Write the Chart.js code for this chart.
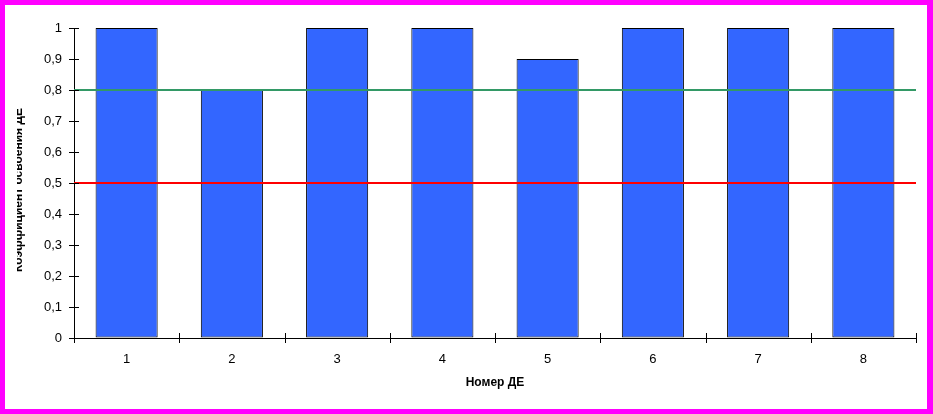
<!DOCTYPE html>
<html>
<head>
<meta charset="utf-8">
<script src="https://cdn.jsdelivr.net/npm/chart.js@4/dist/chart.umd.min.js"></script>
<style>
  body { margin: 0; background: #fff; }
  #frame { width: 933px; height: 414px; box-sizing: border-box; border: 5px solid #ff00ff; border-right-width: 6px; background: #fff; }
  canvas { display: block; }
</style>
</head>
<body>
<div id="frame"><canvas id="myChart" width="922" height="404"></canvas></div>
<script>
'use strict'
// data
const categories = ['1', '2', '3', '4', '5', '6', '7', '8']
const values = [1, 0.8, 1, 1, 0.9, 1, 1, 1]
const upperLevel = 0.8
const lowerLevel = 0.5
const yTicks = [0, 0.1, 0.2, 0.3, 0.4, 0.5, 0.6, 0.7, 0.8, 0.9, 1]
const yTitle = 'Коэффициент освоения ДЕ'
const xTitle = 'Номер ДЕ'

const font = 'Liberation Sans, Arial, sans-serif'

// excel style crossing tick marks + the clipped y title
const extras = {
    id: 'extras',
    afterDraw(chart) {
        const ctx = chart.ctx
        const x = chart.scales.x
        const y = chart.scales.y
        ctx.save()
        ctx.strokeStyle = '#000'
        ctx.lineWidth = 1
        ctx.beginPath()
        for (let i = 0; i < yTicks.length; i++) {
            const py = Math.round(y.getPixelForValue(yTicks[i])) + 0.5
            ctx.moveTo(x.left - 5, py)
            ctx.lineTo(x.left + 5, py)
        }
        for (let i = 0; i <= categories.length; i++) {
            const px = Math.round(x.getPixelForValue(i - 0.5)) + 0.5
            ctx.moveTo(px, y.bottom - 5)
            ctx.lineTo(px, y.bottom + 5)
        }
        ctx.stroke()

        ctx.beginPath()
        ctx.rect(12, 0, 20, chart.height)
        ctx.clip()
        ctx.translate(17, (y.top + y.bottom) / 2 + 7)
        ctx.rotate(-Math.PI / 2)
        ctx.fillStyle = '#000'
        ctx.font = 'bold 12px ' + font
        ctx.textAlign = 'center'
        ctx.textBaseline = 'alphabetic'
        ctx.fillText(yTitle, 0, 0)
        ctx.restore()
    }
}

const config = {
    type: 'bar',
    data: {
        labels: categories,
        datasets: [
            {
                type: 'line',
                xAxisID: 'x2',
                data: [{ x: 0, y: upperLevel }, { x: 1, y: upperLevel }],
                borderColor: '#339966',
                borderWidth: 2,
                pointRadius: 0,
                order: 1
            },
            {
                type: 'line',
                xAxisID: 'x2',
                data: [{ x: 0, y: lowerLevel }, { x: 1, y: lowerLevel }],
                borderColor: '#ff0000',
                borderWidth: 2,
                pointRadius: 0,
                order: 1
            },
            {
                data: values,
                backgroundColor: '#3366ff',
                borderColor: '#000',
                borderWidth: 1,
                borderSkipped: false,
                categoryPercentage: 1,
                barPercentage: 0.59,
                grouped: false,
                order: 2
            }
        ]
    },
    options: {
        responsive: false,
        animation: false,
        devicePixelRatio: 1,
        layout: { padding: { top: 23, right: 11, left: 0, bottom: 0 } },
        plugins: { legend: { display: false }, tooltip: { enabled: false } },
        scales: {
            x: {
                grid: { display: true, drawOnChartArea: false, drawTicks: false },
                border: { display: true, color: '#000', width: 1 },
                ticks: { color: '#000', font: { family: font, size: 13 }, padding: 14 },
                title: { display: true, text: xTitle, color: '#000', font: { family: font, size: 12, weight: 'bold' }, padding: { top: 4, bottom: 19 } },
                afterFit(scale) { scale.height = 71 }
            },
            x2: { type: 'linear', display: false, offset: false, min: 0, max: 1 },
            y: {
                min: 0,
                max: 1,
                ticks: {
                    stepSize: 0.1,
                    color: '#000',
                    font: { family: font, size: 13 },
                    padding: 12,
                    callback: v => String(Math.round(v * 10) / 10).replace('.', ',')
                },
                grid: { display: true, drawOnChartArea: false, drawTicks: false },
                border: { display: true, color: '#000', width: 1 },
                afterFit(scale) { scale.width = 69 }
            }
        }
    },
    plugins: [extras]
}

const myChart = new Chart(document.getElementById('myChart'), config)
</script>
</body>
</html>
